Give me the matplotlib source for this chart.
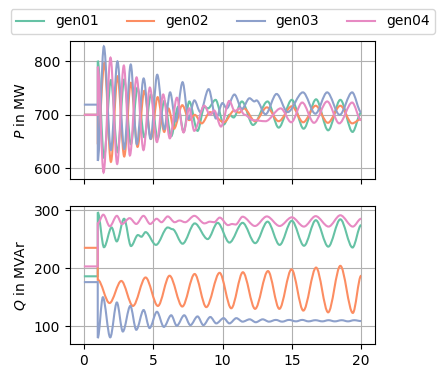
import matplotlib
matplotlib.use("Agg")
import matplotlib.pyplot as plt
from matplotlib.path import Path
from matplotlib.patches import PathPatch
from matplotlib.lines import Line2D

names = ["gen01", "gen02", "gen03", "gen04"]
colors = ["#66c2a5", "#fc8d62", "#8da0cb", "#e78ac3"]

# turning points (time in s, value)
p_gen01_t = [0, 1, 1, 1.45, 1.95, 2.43, 2.91, 3.39, 3.87, 4.36, 4.84, 5.32, 5.8, 6.3, 6.8, 7.2, 7.6, 8.2, 8.7, 8.95, 9.5, 10.1, 10.5, 10.8, 11.4, 12.2, 13.25, 14.05, 15.0, 15.85, 16.75, 17.62, 18.5, 19.38, 20]
p_gen01_v = [700, 700, 801, 620, 765, 630, 766, 645, 751, 658, 738, 655, 726, 660, 715, 668, 725, 670, 715, 712, 728, 682, 700, 695, 725, 681, 725, 676, 728, 674, 729, 671, 728, 668, 704]

p_gen02_t = [0, 1, 1, 1.48, 1.95, 2.43, 2.91, 3.39, 3.87, 4.36, 4.84, 5.32, 5.8, 6.1, 6.5, 7.1, 7.6, 8.0, 8.5, 9.1, 10.1, 10.85, 11.2, 11.55, 12.35, 13.2, 14.05, 15.0, 15.82, 16.72, 17.6, 18.5, 19.35, 20]
p_gen02_v = [700, 700, 645, 797, 612, 772, 622, 760, 640, 745, 655, 733, 668, 712, 674, 718, 690, 700, 684, 705, 686, 708, 704, 712, 688, 714, 688, 716, 686, 717, 685, 717, 684, 692]

p_gen03_t = [0, 1, 1, 1.44, 1.95, 2.42, 2.91, 3.38, 3.82, 4.31, 4.81, 5.29, 5.8, 6.22, 6.62, 7.12, 7.55, 7.97, 8.4, 9.0, 9.53, 10.0, 10.3, 10.86, 11.4, 11.95, 12.3, 12.45, 13.1, 13.9, 14.7, 15.8, 16.7, 17.55, 18.45, 19.35, 20]
p_gen03_v = [719, 719, 614, 828, 634, 800, 636, 794, 645, 768, 655, 775, 673, 742, 688, 761, 692, 727, 705, 748, 693, 722, 712, 738, 711, 731, 725, 727, 701, 739, 705, 742, 702, 742, 700, 742, 705]

p_gen04_t = [0, 1, 1, 1.42, 1.92, 2.4, 2.88, 3.32, 3.8, 4.3, 4.76, 5.27, 5.72, 6.2, 6.71, 7.19, 7.6, 7.96, 8.68, 9.1, 9.4, 9.89, 10.49, 10.9, 11.2, 11.6, 12.2, 13.1, 14.2, 14.96, 15.75, 16.6, 17.55, 18.42, 19.35, 20]
p_gen04_v = [700, 700, 790, 592, 807, 608, 792, 624, 770, 634, 751, 649, 738, 656, 732, 667, 712, 670, 717, 700, 708, 678, 726, 706, 712, 700, 690, 688, 712, 686, 723, 685, 725, 684, 723, 690]

q_gen01_t = [0, 1, 1, 1.45, 2.0, 2.37, 2.9, 3.4, 3.9, 4.15, 4.45, 5.2, 6.05, 6.4, 7.12, 8.0, 8.93, 9.65, 10.5, 11.45, 12.36, 13.25, 14.12, 15.0, 15.88, 16.73, 17.63, 18.5, 19.38, 20]
q_gen01_v = [186, 186, 296, 236, 270, 246, 285, 238, 257, 254, 262, 240, 270, 267, 242, 277, 250, 278, 244, 278, 243, 280, 240, 281.5, 238.5, 282.5, 237, 284, 235.5, 274]

q_gen02_t = [0, 1, 1, 1.85, 2.7, 3.54, 4.45, 5.34, 6.18, 7.1, 7.99, 8.83, 9.79, 10.63, 11.47, 12.35, 13.28, 14.1, 14.98, 15.83, 16.75, 17.62, 18.5, 19.4, 20]
q_gen02_v = [235, 235, 180, 140, 178, 135, 184, 135, 187, 134, 190, 133, 192, 131, 193, 130, 195, 130, 198, 127, 201, 124, 204, 123, 187]

q_gen03_t = [0, 1, 1, 1.37, 1.9, 2.38, 2.81, 3.35, 3.78, 4.31, 4.74, 5.27, 5.77, 6.3, 6.7, 7.24, 7.68, 8.2, 8.62, 9.12, 9.55, 10.08, 10.5, 11.0, 11.45, 11.96, 12.4, 12.9, 13.35, 13.85, 14.3, 14.8, 15.3, 15.75, 16.2, 16.7, 17.2, 17.65, 18.1, 18.6, 19.05, 19.5, 20]
q_gen03_v = [176, 176, 80, 150, 81, 141, 91, 135, 94, 128, 97, 125, 99, 119, 101, 119, 102, 117, 102, 116, 105, 114, 105, 114, 108, 112, 107, 112, 108, 111, 108, 111, 108.5, 111, 108.5, 110.5, 108.5, 110.5, 108.5, 110.5, 108.5, 110.5, 109]

q_gen04_t = [0, 1, 1, 1.4, 1.87, 2.38, 2.75, 3.3, 3.78, 4.3, 4.78, 5.25, 5.6, 6.05, 6.55, 6.9, 7.3, 7.97, 8.7, 9.1, 9.4, 9.8, 10.4, 10.7, 10.95, 11.45, 12.34, 13.2, 14.12, 15.0, 15.87, 16.72, 17.65, 18.5, 19.4, 20]
q_gen04_v = [203, 203, 277, 292, 272, 290, 276, 286, 276, 290, 276, 285, 279, 289, 279, 282, 279, 290, 277, 280, 279, 287, 274, 276, 275, 288.5, 272.5, 289, 272.5, 287.5, 271.5, 289.5, 271.5, 291, 271.5, 285]

x_ticks = [0, 5, 10, 15, 20]


def curve_through(t, v):
    # smooth curve through the turning points, flat at each of them
    verts = [(t[0], v[0])]
    codes = [Path.MOVETO]
    for i in range(1, len(t)):
        dt = t[i] - t[i - 1]
        verts += [(t[i - 1] + dt / 3, v[i - 1]), (t[i] - dt / 3, v[i]), (t[i], v[i])]
        codes += [Path.CURVE4] * 3
    return Path(verts, codes)


fig = plt.figure(figsize=(4.44, 3.78), dpi=100)
ax_p = fig.add_axes([0.1577, 0.5265, 0.6869, 0.3650])
ax_q = fig.add_axes([0.1577, 0.0900, 0.6869, 0.3650], sharex=ax_p)

p_series = [(p_gen01_t, p_gen01_v), (p_gen02_t, p_gen02_v), (p_gen03_t, p_gen03_v), (p_gen04_t, p_gen04_v)]
q_series = [(q_gen01_t, q_gen01_v), (q_gen02_t, q_gen02_v), (q_gen03_t, q_gen03_v), (q_gen04_t, q_gen04_v)]

for ax, series in [(ax_p, p_series), (ax_q, q_series)]:
    for (t, v), c in zip(series, colors):
        ax.add_patch(PathPatch(curve_through(t, v), fill=False, edgecolor=c, lw=1.5, zorder=2))
    ax.grid(True)

ax_p.set_xlim(-1, 21)
ax_p.set_xticks(x_ticks)
ax_p.set_ylim(580, 838)
ax_p.set_yticks([600, 700, 800])
ax_q.set_ylim(69.6, 306.9)
ax_q.set_yticks([100, 200, 300])
ax_p.tick_params(labelbottom=False)
ax_p.set_ylabel("$P$ in MW")
ax_q.set_ylabel("$Q$ in MVAr")

handles = [Line2D([], [], color=c, lw=1.5) for c in colors]
fig.legend(handles, names, loc="upper center", ncol=4, bbox_to_anchor=(0.502, 0.995))

fig.savefig("out.png", dpi=100)
